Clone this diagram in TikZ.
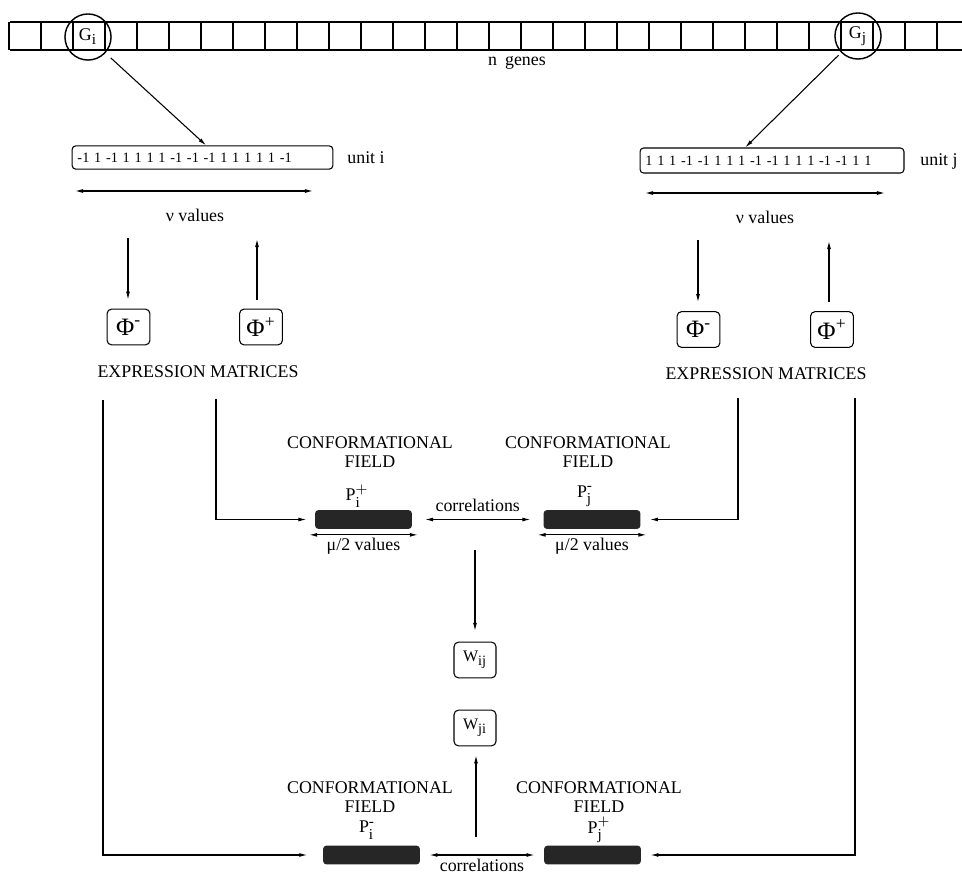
\documentclass[tikz,border=0pt]{standalone}
\usepackage{amsmath}
\usepackage{fontspec}
\setmainfont{Liberation Serif}
\usetikzlibrary{arrows.meta}
\DeclareMathSizes{10}{10}{8.5}{7}
\DeclareMathSizes{9}{9}{8}{6}

\begin{document}
\begin{tikzpicture}[x=0.56pt, y=-0.56pt, line width=0.6pt,
  every node/.style={font=\fontsize{10}{12}\selectfont},
  arr/.style={-{Latex[length=4.5pt,width=2.2pt]}},
  dimarr/.style={{Latex[length=4.5pt,width=2.2pt]}-{Latex[length=4.5pt,width=2.2pt]}},
  genering/.style={circle, draw, line width=0.8pt, minimum size=25.8pt, inner sep=0pt},
  unitbox/.style={draw, rounded corners=2pt, inner xsep=3pt, inner ysep=0pt, minimum height=13pt, align=left, font=\fontsize{8}{9}\selectfont},
  phibox/.style={draw, rounded corners=2.5pt, minimum width=24pt, minimum height=20pt, inner sep=0pt, font=\fontsize{14}{16}\selectfont},
  wbox/.style={draw, rounded corners=2.5pt, minimum width=23.5pt, minimum height=20pt, inner sep=0pt, font=\fontsize{9}{10}\selectfont},
  fieldbar/.style={fill=black!85, rounded corners=2pt, minimum width=54.3pt, minimum height=10.6pt, inner sep=0pt},
  fieldlabel/.style={align=center, inner sep=0pt, font=\fontsize{10}{10.6}\selectfont},
  plabel/.style={inner sep=0pt}]
\useasboundingbox (0,0) rectangle (962,875);

% gene string
\draw[line width=0.9pt] (10,22) -- (962,22) (10,50) -- (962,50);
\foreach \k in {0,...,29}
  \draw[line width=0.9pt] (9+32*\k,22) -- (9+32*\k,50);
\node[genering] (gi) at (88,37) {$\mathrm{G}_{\mathrm{i}}$};
\node[genering] (gj) at (858,36) {$\mathrm{G}_{\mathrm{j}}$};
\node (ngenes) at (517,63) {n\hspace{0.45em}genes};

% units
\node[unitbox, text width=140pt] (ui) at (202.5,157.5) {-1 1 -1 1 1 1 1 -1 -1 -1 1 1 1 1 1 -1};
\node[unitbox, text width=141.8pt, minimum height=14pt] (uj) at (772,160.5) {1 1 1 -1 -1 1 1 1 -1 -1 1 1 1 -1 -1 1 1};
\node (uil) at (366,158) {unit i};
\node (ujl) at (939,161) {unit j};
\draw[arr, shorten <=4pt] (gi) -- ([xshift=2pt]ui.north);
\draw[arr, shorten <=2pt] (gj) -- ([xshift=-15pt]uj.north);

\coordinate (nuil) at (75,191);
\coordinate (nuir) at (313,191);
\coordinate (nujl) at (645,193);
\coordinate (nujr) at (885,193);
\draw[dimarr] (nuil) -- (nuir);
\draw[dimarr] (nujl) -- (nujr);
\node (nui) at (195,215) {ν values};
\node (nuj) at (765,217) {ν values};

% expression matrices
\node[phibox] (phimi) at (128.5,327) {Φ\textsuperscript{-}};
\node[phibox] (phipi) at (261,327) {Φ\textsuperscript{+}};
\node[phibox] (phimj) at (698.5,329.5) {Φ\textsuperscript{-}};
\node[phibox] (phipj) at (832,329.5) {Φ\textsuperscript{+}};
\node (emi) at (198,372) {EXPRESSION MATRICES};
\node (emj) at (766,374) {EXPRESSION MATRICES};

\coordinate (di) at (128,238);
\coordinate (upi) at (257,239);
\coordinate (dj) at (698,240);
\coordinate (upj) at (829,241);
\draw[arr, shorten >=5pt] (di) -- (di |- phimi.north);
\draw[arr, shorten <=5pt] (upi |- phipi.north) -- (upi);
\draw[arr, shorten >=5pt] (dj) -- (dj |- phimj.north);
\draw[arr, shorten <=5pt] (upj |- phipj.north) -- (upj);

% conformational fields
\node[fieldbar] (bpi) at (363.5,519.5) {};
\node[fieldbar] (bmj) at (592,519.5) {};
\node[fieldbar] (bmi) at (371.5,855) {};
\node[fieldbar] (bpj) at (592.5,855) {};

\node[fieldlabel] (cfpi) at (370,452.5) {CONFORMATIONAL\\FIELD};
\node[fieldlabel] (cfmj) at (588,452.5) {CONFORMATIONAL\\FIELD};
\node[fieldlabel] (cfmi) at (370,797) {CONFORMATIONAL\\FIELD};
\node[fieldlabel] (cfpj) at (599,797) {CONFORMATIONAL\\FIELD};
\node[plabel] (ppi) at (357,496) {$\mathrm{P}^{+}_{\mathrm{i}}$};
\node[plabel] (pmj) at (585,496) {$\mathrm{P}^{\text{-}}_{\mathrm{j}}$};
\node[plabel] (pmi) at (367,830) {$\mathrm{P}^{\text{-}}_{\mathrm{i}}$};
\node[plabel] (ppj) at (599,830) {$\mathrm{P}^{+}_{\mathrm{j}}$};

\coordinate (loi) at (103,400);
\coordinate (lii) at (216,399);
\coordinate (lij) at (738,398);
\coordinate (loj) at (855,398);
\draw[arr, shorten >=4.5pt] (lii) |- (bpi.west);
\draw[arr, shorten >=5pt] (lij) |- (bmj.east);
\draw[arr, shorten >=8.5pt] (loi) |- (bmi.west);
\draw[arr, shorten >=5pt] (loj) |- (bpj.east);

\draw[dimarr, shorten <=7pt, shorten >=7pt] (bpi) -- (bmj)
  node[midway, above=3pt, inner sep=1pt] {correlations};
\draw[dimarr, shorten <=5pt, shorten >=5pt] (bmi) -- (bpj)
  node[midway, below=1.5pt, inner sep=0.5pt] {correlations};
\draw[dimarr] ([xshift=-3pt,yshift=-3pt]bpi.south west) -- ([xshift=3pt,yshift=-3pt]bpi.south east)
  node[midway, below=0.5pt, inner sep=1pt] {μ/2 values};
\draw[dimarr] ([xshift=-3pt,yshift=-3pt]bmj.south west) -- ([xshift=3pt,yshift=-3pt]bmj.south east)
  node[midway, below=0.5pt, inner sep=1pt] {μ/2 values};

% weights
\node[wbox] (wij) at (475,660) {$\mathrm{W}_{\mathrm{ij}}$};
\node[wbox] (wji) at (475,728) {$\mathrm{W}_{\mathrm{ji}}$};
\coordinate (cdn) at (475,550);
\coordinate (cup) at (476,837);
\draw[arr, shorten >=6pt] (cdn) -- (cdn |- wij.north);
\draw[arr, shorten >=5pt] (cup) -- (cup |- wji.south);
\end{tikzpicture}
\end{document}
